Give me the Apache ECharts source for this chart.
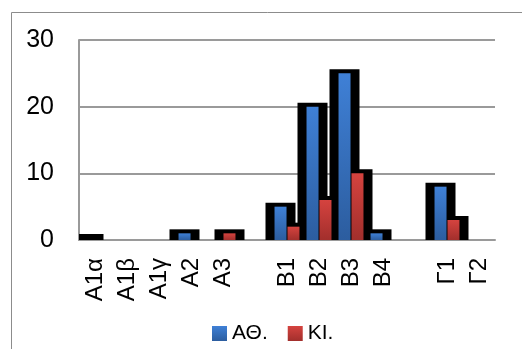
<!DOCTYPE html>
<html>
<head>
<meta charset="utf-8">
<script src="https://cdn.jsdelivr.net/npm/echarts@6/dist/echarts.min.js"></script>
<style>
  html, body { margin: 0; padding: 0; background: #fff; }
  #chart { width: 522px; height: 349px; }
</style>
</head>
<body>
<div id="chart"></div>
<script>
// Categories along the x axis (blank entries are spacer slots between groups)
const categories = ['Α1α', 'Α1β', 'Α1γ', 'Α2', 'Α3', ' ', 'Β1', 'Β2', 'Β3', 'Β4', '  ', 'Γ1', 'Γ2'];
// Series values (null = no bar)
const athens = [0, null, null, 1, null, null, 5, 20, 25, 1, null, 8, null];
const ki     = [null, null, null, null, 1, null, 2, 6, 10, null, null, 3, null];
const seriesNames = ['ΑΘ.', 'ΚΙ.'];
const yTicks = { min: 0, max: 30, step: 10 };

const FONT = 'Liberation Sans';

function grad(top, bottom) {
  return new echarts.graphic.LinearGradient(0, 0, 0, 1, [
    { offset: 0, color: top },
    { offset: 1, color: bottom }
  ]);
}

// Thick black frame drawn behind each bar: centred on the bar,
// 15px either side of the centre and 4px above the bar top.
function outlineRenderer(centerOffset) {
  return function (params, api) {
    const v = api.value(1);
    if (v == null || isNaN(v)) return;
    const idx = api.value(0);
    const base = api.coord([idx, 0]);
    const top = api.coord([idx, v]);
    const cx = base[0] + centerOffset;
    const lift = v === 0 ? 6 : 4;
    return {
      type: 'rect',
      shape: { x: cx - 15, y: top[1] - lift, width: 30, height: base[1] - top[1] + lift },
      style: { fill: '#000' }
    };
  };
}

function pairs(values) {
  return values.map((v, i) => [i, v]);
}

const chart = echarts.init(document.getElementById('chart'), null, { renderer: 'canvas' });

chart.setOption({
  animation: false,
  backgroundColor: '#fff',
  graphic: [{
    type: 'rect',
    shape: { x: 11.5, y: 12.5, width: 600, height: 400 },
    style: { fill: null, stroke: '#8c8c8c', lineWidth: 1 },
    silent: true,
    z: -10
  }],
  grid: { left: 79, right: 27, top: 40, bottom: 109, containLabel: false },
  legend: {
    data: seriesNames,
    left: 212,
    top: 323,
    padding: 0,
    itemWidth: 15,
    itemHeight: 15,
    itemGap: 20,
    icon: 'rect',
    textStyle: { fontFamily: FONT, fontSize: 21, color: '#000' }
  },
  xAxis: {
    type: 'category',
    data: categories,
    axisLine: { show: true, lineStyle: { color: '#9a9a9a', width: 2 } },
    axisTick: { show: false },
    axisLabel: { interval: 0, rotate: 90, margin: 18, fontFamily: FONT, fontSize: 24, color: '#000' }
  },
  yAxis: {
    type: 'value',
    min: yTicks.min,
    max: yTicks.max,
    interval: yTicks.step,
    axisLine: { show: true, lineStyle: { color: '#9a9a9a', width: 2 } },
    axisTick: { show: false },
    splitLine: { lineStyle: { color: '#9a9a9a', width: 2 } },
    axisLabel: { margin: 25, fontFamily: FONT, fontSize: 25, color: '#000' }
  },
  series: [
    {
      name: seriesNames[0] + ' frame',
      type: 'custom',
      data: pairs(athens),
      encode: { x: 0, y: 1 },
      renderItem: outlineRenderer(-6.5),
      clip: true,
      silent: true,
      z: 1
    },
    {
      name: seriesNames[1] + ' frame',
      type: 'custom',
      data: pairs(ki),
      encode: { x: 0, y: 1 },
      renderItem: outlineRenderer(6.5),
      clip: true,
      silent: true,
      z: 1
    },
    {
      name: seriesNames[0],
      type: 'bar',
      data: athens,
      barWidth: 12,
      barGap: '8%',
      z: 3,
      itemStyle: { color: grad('#3f80d6', '#2c5d9f') }
    },
    {
      name: seriesNames[1],
      type: 'bar',
      data: ki,
      barWidth: 12,
      barGap: '8%',
      z: 3,
      itemStyle: { color: grad('#d5433f', '#a22f2c') }
    }
  ]
});
</script>
</body>
</html>
